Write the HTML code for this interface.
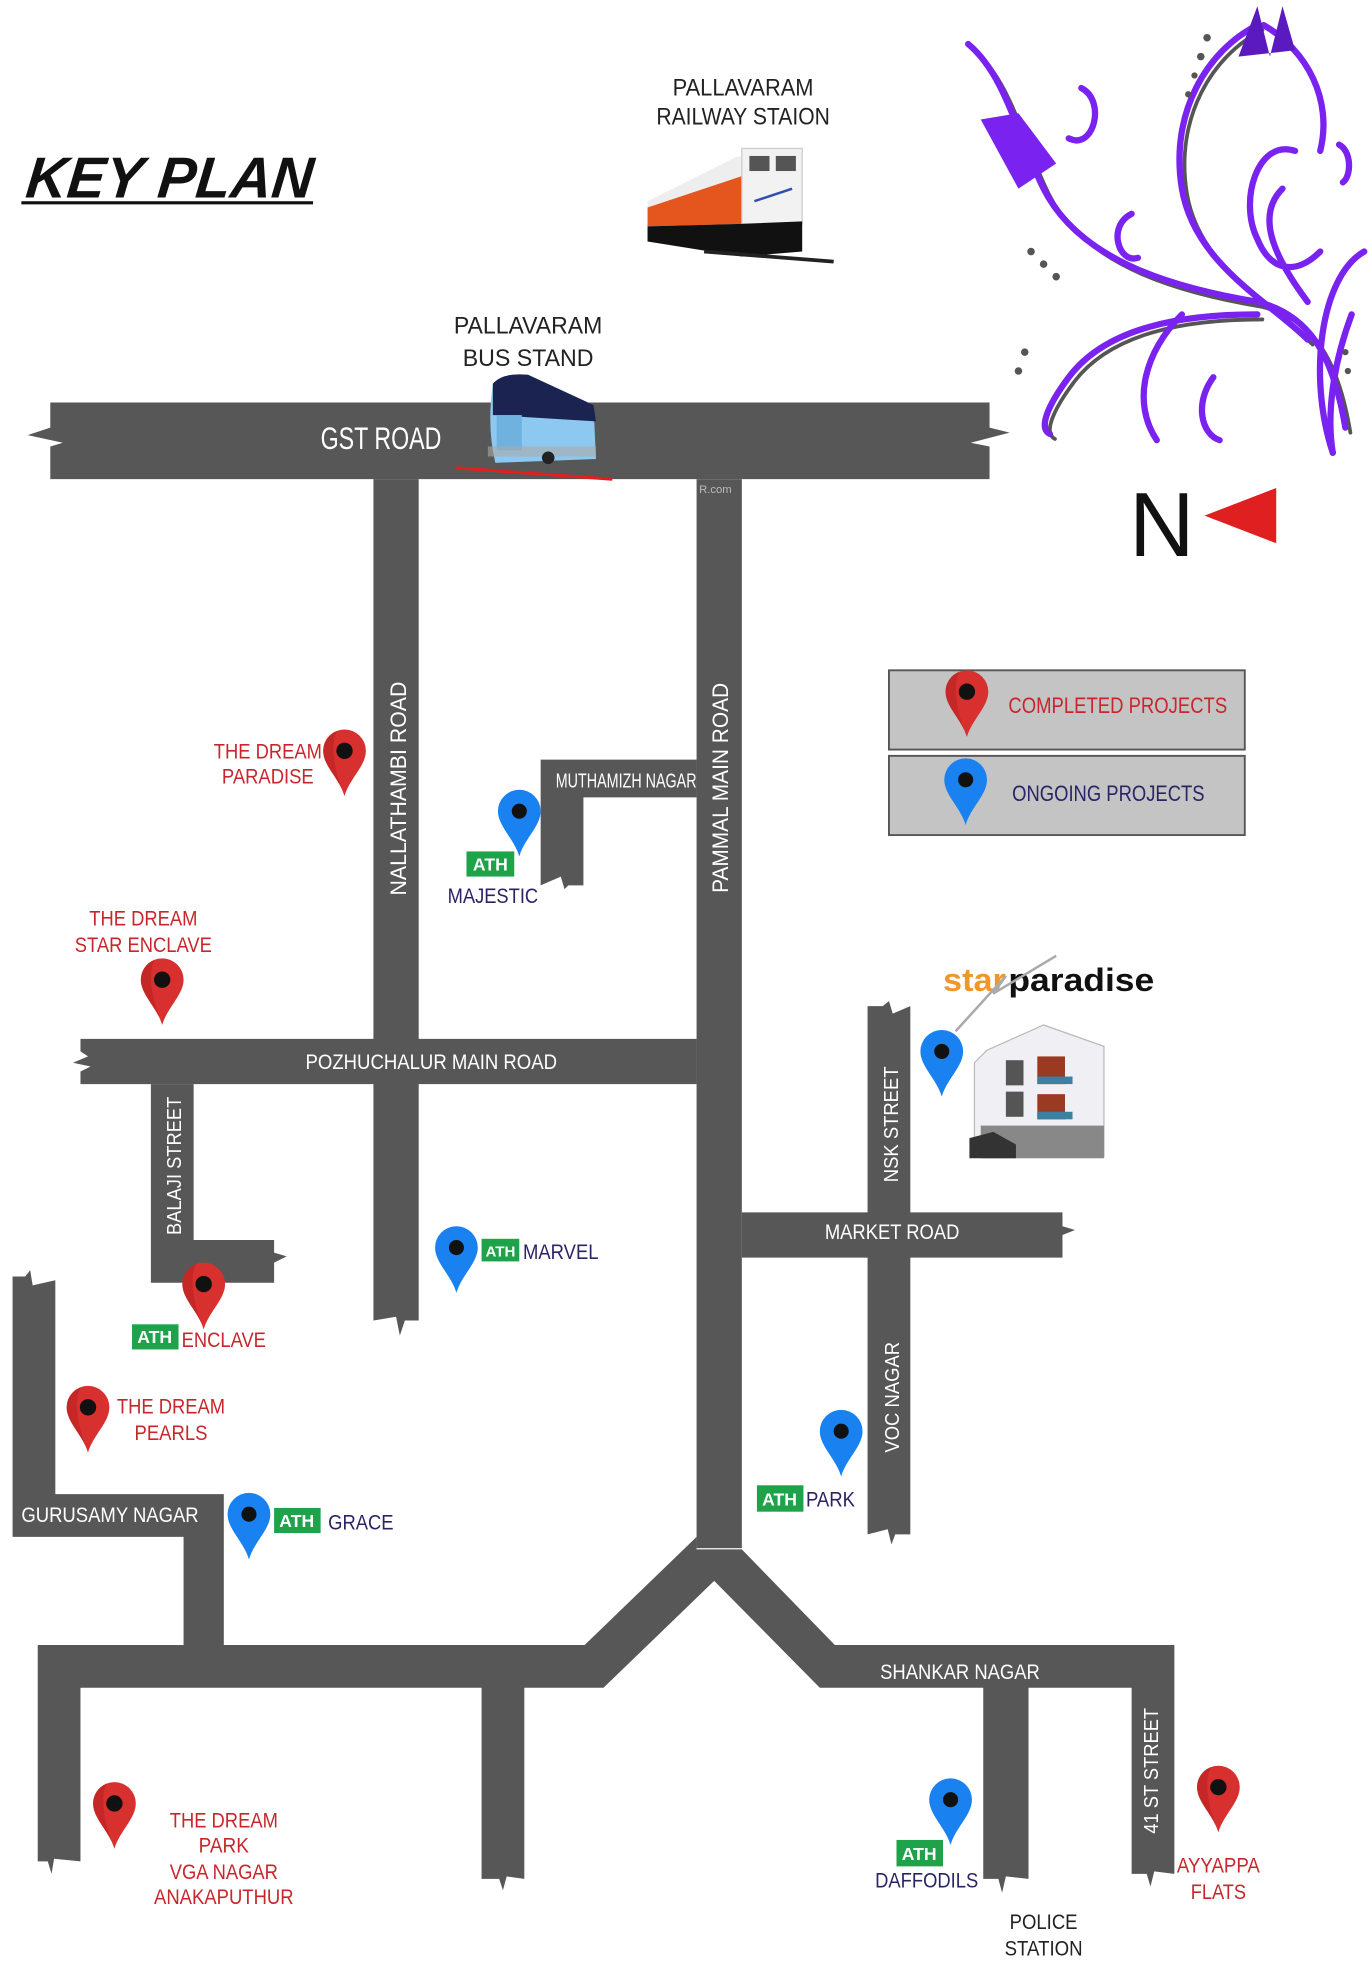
<!DOCTYPE html>
<html><head><meta charset="utf-8"><style>html,body{margin:0;padding:0;background:#fff}svg{display:block}</style></head><body>
<svg width="1368" height="1972" viewBox="0 0 1088 1568" preserveAspectRatio="none" xmlns="http://www.w3.org/2000/svg" font-family="Liberation Sans, sans-serif">
<defs>
<g id="rp"><path d="M0,0 C-4,-14 -17,-24 -17,-36 A17,17 0 1 1 17,-36 C17,-24 4,-14 0,0Z" fill="#d8302e"/><path d="M0,0 C-4,-14 -17,-24 -17,-36 A17,17 0 0 1 -6,-52 C-12,-40 -8,-20 0,0Z" fill="#b01e1e" opacity=".5"/><circle cx="0" cy="-36" r="6.5" fill="#111"/></g>
<g id="bp"><path d="M0,0 C-4,-14 -17,-24 -17,-36 A17,17 0 1 1 17,-36 C17,-24 4,-14 0,0Z" fill="#1a82f0"/><circle cx="0" cy="-36" r="6" fill="#111"/></g>
</defs>
<g fill="#575757">
<path d="M40,320 H787 V340 L803,344 L772,352 L787,355 V381 H40 V355 L50,352 L22,346 L40,340Z"/>
<path d="M297,381 H333 V1050 H322 L318,1062 L315,1047 L297,1050Z"/>
<rect x="554" y="381" width="36" height="850"/>
<path d="M430,604 H554 V634 H464 V704 L452,704 L449,707 L446,697 L430,704Z"/>
<path d="M64,826 H554 V862 H64 V852 L72,848 L58,845 L70,840 L64,836Z"/>
<path d="M120,862 H154 V986 H218 V996 L228,999 L218,1004 V1020 H120Z"/>
<path d="M590,964 H845 V975 L855,978 L845,982 V1000 H590Z"/>
<path d="M690,800 L702,800 L707,796 L710,806 L724,800 V1220 L712,1220 L709,1228 L706,1216 L690,1220Z"/>
<path d="M10,1015 L20,1015 L24,1010 L26,1022 L44,1018 V1188 H178 V1310 H146 V1222 H10Z"/>
<path d="M554,1222 L465,1308 H30 V1480 L38,1480 L41,1490 L43,1478 L64,1480 V1342 H383 V1494 L397,1494 L400,1503 L403,1492 L417,1494 V1342 H480 L568,1257 L652,1342 H782 V1494 L794,1494 L797,1505 L800,1492 L818,1494 V1342 H900 V1490 L912,1490 L915,1500 L918,1488 L934,1490 V1308 H664 L590,1232 H554Z"/>
</g>
<path d="M362,372 L487,381" stroke="#e02020" stroke-width="2.5"/>
<text x="556" y="392" font-size="9" fill="#bbb">R.com</text>

<text x="20" y="157" font-size="46" font-style="italic" font-weight="bold" fill="#111" textLength="228" lengthAdjust="spacingAndGlyphs" transform="skewX(-6) translate(16,0)">KEY PLAN</text>
<rect x="17" y="160" width="232" height="2.5" fill="#111"/>

<g font-size="19" fill="#222" text-anchor="middle">
<text x="591" y="76" textLength="112" lengthAdjust="spacingAndGlyphs">PALLAVARAM</text>
<text x="591" y="99" textLength="138" lengthAdjust="spacingAndGlyphs">RAILWAY STAION</text>
<text x="420" y="265" textLength="118" lengthAdjust="spacingAndGlyphs">PALLAVARAM</text>
<text x="420" y="291" textLength="104" lengthAdjust="spacingAndGlyphs">BUS STAND</text>
<text x="830" y="1534" font-size="17" textLength="54" lengthAdjust="spacingAndGlyphs">POLICE</text>
<text x="830" y="1555" font-size="17" textLength="62" lengthAdjust="spacingAndGlyphs">STATION</text>
</g>

<g>
<polygon points="515,160 585,125 635,118 638,190 590,200 515,188" fill="#eee"/>
<polygon points="515,165 590,140 590,178 515,180" fill="#e5561f"/>
<rect x="590" y="118" width="48" height="60" fill="#f2f2f2" stroke="#ccc"/>
<rect x="596" y="124" width="16" height="12" fill="#555"/><rect x="617" y="124" width="16" height="12" fill="#555"/>
<polygon points="515,180 590,178 638,176 638,200 590,204 515,192" fill="#111"/>
<path d="M600,160 L630,150" stroke="#3050b0" stroke-width="2"/>
<path d="M560,200 L663,208" stroke="#222" stroke-width="3"/>
</g>
<g>
<path d="M392,305 Q400,296 420,298 L472,322 L474,365 L394,368 Q387,340 392,305Z" fill="#8cc8ef"/>
<path d="M392,305 Q400,296 420,298 L472,322 L474,335 L392,330Z" fill="#1b2450"/>
<rect x="395" y="330" width="20" height="28" fill="#6fb2e0"/>
<rect x="388" y="355" width="86" height="8" fill="#aaa" opacity=".6"/>
<circle cx="436" cy="364" r="5" fill="#222"/>
</g>

<!-- ornament -->
<g fill="none" stroke-linecap="round">
<g stroke="#555" stroke-width="3" transform="translate(4,4)">
<path d="M770,35 C800,60 810,110 830,150 C860,210 940,230 1000,240 C1040,250 1060,280 1070,340"/>
<path d="M1000,20 C960,40 930,90 940,150 C950,210 1010,240 1040,270"/>
<path d="M1000,250 C940,250 880,260 850,300 C835,320 825,340 835,345"/>
</g>
<g stroke="#7a22f0" stroke-width="5">
<path d="M770,35 C800,60 810,110 830,150 C860,210 940,230 1000,240 C1040,250 1060,280 1070,340"/>
<path d="M1000,20 C960,40 930,90 940,150 C950,210 1010,240 1040,270"/>
<path d="M1005,20 C1040,40 1060,80 1050,120"/>
<path d="M1030,120 C1000,110 985,160 1000,190 C1010,215 1030,220 1050,200"/>
<path d="M1085,200 C1050,220 1040,300 1060,360"/>
<path d="M1000,250 C940,250 880,260 850,300 C835,320 825,340 835,345"/>
<path d="M940,250 C910,280 900,320 920,350"/>
<path d="M860,70 C880,80 870,120 850,110"/>
<path d="M1075,250 C1060,290 1055,330 1060,360"/>
<path d="M1040,240 C1010,200 1000,170 1020,150"/>
<path d="M900,170 C880,180 890,210 905,205"/>
<path d="M965,300 C950,320 955,345 970,350"/>
<path d="M1065,115 C1075,120 1075,140 1068,145"/>
</g>
</g>
<path d="M780,95 L810,90 L840,130 L810,150 Z" fill="#7a22f0"/>
<path d="M985,45 L1000,5 L1010,45 L1020,5 L1030,40 Z" fill="#5a1ac0"/>
<g fill="#555"><circle cx="820" cy="200" r="3"/><circle cx="830" cy="210" r="3"/><circle cx="840" cy="220" r="3"/><circle cx="960" cy="30" r="3"/><circle cx="955" cy="45" r="3"/><circle cx="815" cy="280" r="3"/><circle cx="810" cy="295" r="3"/><circle cx="950" cy="60" r="2.5"/><circle cx="945" cy="75" r="2.5"/><circle cx="1070" cy="280" r="2.5"/><circle cx="1072" cy="295" r="2.5"/></g>

<text x="898" y="442" font-size="72" fill="#111" textLength="52" lengthAdjust="spacingAndGlyphs">N</text>
<polygon points="958,410 1015,388 1015,432" fill="#e02020"/>

<rect x="707" y="533" width="283" height="63" fill="#c4c4c4" stroke="#555" stroke-width="1.5"/>
<rect x="707" y="601" width="283" height="63" fill="#c4c4c4" stroke="#555" stroke-width="1.5"/>
<use href="#rp" transform="translate(769,586)"/>
<use href="#bp" transform="translate(768,656)"/>
<text x="802" y="567" font-size="18" fill="#c8262a" textLength="174" lengthAdjust="spacingAndGlyphs">COMPLETED PROJECTS</text>
<text x="805" y="637" font-size="18" fill="#2a2466" textLength="153" lengthAdjust="spacingAndGlyphs">ONGOING PROJECTS</text>

<g fill="#fff" font-size="17">
<text x="255" y="357" font-size="25" textLength="96" lengthAdjust="spacingAndGlyphs">GST ROAD</text>
<text x="243" y="850" textLength="200" lengthAdjust="spacingAndGlyphs">POZHUCHALUR MAIN ROAD</text>
<text x="442" y="626" font-size="16" textLength="112" lengthAdjust="spacingAndGlyphs">MUTHAMIZH NAGAR</text>
<text x="656" y="985" textLength="107" lengthAdjust="spacingAndGlyphs">MARKET ROAD</text>
<text x="17" y="1210" textLength="141" lengthAdjust="spacingAndGlyphs">GURUSAMY NAGAR</text>
<text x="700" y="1335" textLength="127" lengthAdjust="spacingAndGlyphs">SHANKAR NAGAR</text>
<text transform="translate(323,712) rotate(-90)" font-size="18" textLength="170" lengthAdjust="spacingAndGlyphs">NALLATHAMBI  ROAD</text>
<text transform="translate(579,710) rotate(-90)" font-size="18" textLength="167" lengthAdjust="spacingAndGlyphs">PAMMAL MAIN ROAD</text>
<text transform="translate(144,982) rotate(-90)" font-size="16" textLength="110" lengthAdjust="spacingAndGlyphs">BALAJI STREET</text>
<text transform="translate(714,940) rotate(-90)" font-size="16" textLength="92" lengthAdjust="spacingAndGlyphs">NSK STREET</text>
<text transform="translate(715,1155) rotate(-90)" font-size="16" textLength="88" lengthAdjust="spacingAndGlyphs">VOC NAGAR</text>
<text transform="translate(921,1458) rotate(-90)" font-size="16" textLength="100" lengthAdjust="spacingAndGlyphs">41 ST STREET</text>
</g>

<use href="#rp" transform="translate(274,633)"/>
<use href="#bp" transform="translate(413,681)"/>
<use href="#rp" transform="translate(129,815)"/>
<use href="#bp" transform="translate(749,872)"/>
<use href="#bp" transform="translate(363,1028)"/>
<use href="#rp" transform="translate(162,1057)"/>
<use href="#rp" transform="translate(70,1155)"/>
<use href="#bp" transform="translate(198,1240)"/>
<use href="#bp" transform="translate(669,1174)"/>
<use href="#rp" transform="translate(91,1470)"/>
<use href="#bp" transform="translate(756,1467)"/>
<use href="#rp" transform="translate(969,1457)"/>

<g fill="#1ea34a">
<rect x="371" y="677" width="38" height="20"/>
<rect x="383" y="985" width="30" height="18"/>
<rect x="105" y="1053" width="37" height="20"/>
<rect x="218" y="1199" width="37" height="20"/>
<rect x="602" y="1181" width="37" height="21"/>
<rect x="713" y="1463" width="37" height="21"/>
</g>
<g fill="#fff" font-size="14" font-weight="bold" text-anchor="middle">
<text x="390" y="692">ATH</text>
<text x="398" y="999" font-size="12">ATH</text>
<text x="123" y="1068">ATH</text>
<text x="236" y="1214">ATH</text>
<text x="620" y="1197">ATH</text>
<text x="731" y="1479">ATH</text>
</g>

<g font-size="17" fill="#c8262a" text-anchor="middle">
<text x="213" y="603" textLength="86" lengthAdjust="spacingAndGlyphs">THE DREAM</text>
<text x="213" y="623" textLength="73" lengthAdjust="spacingAndGlyphs">PARADISE</text>
<text x="114" y="736" textLength="86" lengthAdjust="spacingAndGlyphs">THE DREAM</text>
<text x="114" y="757" textLength="109" lengthAdjust="spacingAndGlyphs">STAR ENCLAVE</text>
<text x="178" y="1071" textLength="67" lengthAdjust="spacingAndGlyphs">ENCLAVE</text>
<text x="136" y="1124" textLength="86" lengthAdjust="spacingAndGlyphs">THE DREAM</text>
<text x="136" y="1145" textLength="58" lengthAdjust="spacingAndGlyphs">PEARLS</text>
<text x="178" y="1453" textLength="86" lengthAdjust="spacingAndGlyphs">THE DREAM</text>
<text x="178" y="1473" textLength="40" lengthAdjust="spacingAndGlyphs">PARK</text>
<text x="178" y="1494" textLength="86" lengthAdjust="spacingAndGlyphs">VGA NAGAR</text>
<text x="178" y="1514" textLength="111" lengthAdjust="spacingAndGlyphs">ANAKAPUTHUR</text>
<text x="969" y="1489" textLength="66" lengthAdjust="spacingAndGlyphs">AYYAPPA</text>
<text x="969" y="1510" textLength="44" lengthAdjust="spacingAndGlyphs">FLATS</text>
</g>
<g font-size="17" fill="#2a2466">
<text x="356" y="718" textLength="72" lengthAdjust="spacingAndGlyphs">MAJESTIC</text>
<text x="416" y="1001" textLength="60" lengthAdjust="spacingAndGlyphs">MARVEL</text>
<text x="261" y="1216" textLength="52" lengthAdjust="spacingAndGlyphs">GRACE</text>
<text x="641" y="1198" textLength="39" lengthAdjust="spacingAndGlyphs">PARK</text>
<text x="696" y="1501" textLength="82" lengthAdjust="spacingAndGlyphs">DAFFODILS</text>
</g>

<text x="750" y="788" font-size="26" font-weight="bold" fill="#f0962a" textLength="50" lengthAdjust="spacingAndGlyphs">star</text>
<text x="802" y="788" font-size="26" font-weight="bold" fill="#111" textLength="116" lengthAdjust="spacingAndGlyphs">paradise</text>
<path d="M760,820 L800,776 L790,790 L840,760" stroke="#aaa" stroke-width="2" fill="none"/>
<g>
<polygon points="785,835 830,815 878,832 878,920 775,920 775,845" fill="#f0f0f4" stroke="#bbb"/>
<rect x="800" y="843" width="14" height="20" fill="#555"/><rect x="800" y="868" width="14" height="20" fill="#555"/>
<rect x="825" y="840" width="22" height="22" fill="#9b3a22"/><rect x="825" y="870" width="22" height="20" fill="#9b3a22"/>
<rect x="825" y="856" width="28" height="6" fill="#3d7fa0"/><rect x="825" y="884" width="28" height="6" fill="#3d7fa0"/>
<rect x="780" y="895" width="98" height="26" fill="#888"/>
<path d="M771,921 L771,905 L790,900 L808,910 L808,921Z" fill="#333"/>
</g>
</svg>
</body></html>
